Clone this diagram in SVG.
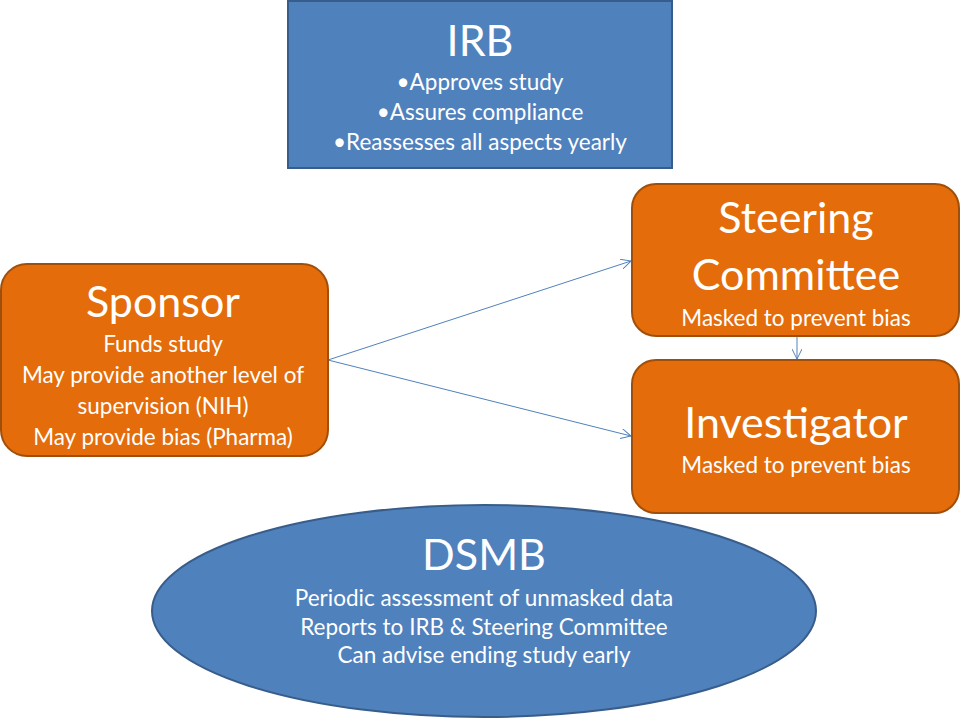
<svg xmlns="http://www.w3.org/2000/svg" width="960" height="720" viewBox="0 0 960 720">
<defs>
<style>
.blue{fill:#4F81BD;stroke:#385D8A;stroke-width:2}
.orange{fill:#E46C0A;stroke:#A04F0A;stroke-width:2}
text{font-family:Lato,"Open Sans",sans-serif;fill:#fff;text-anchor:middle}
.t{font-size:43px}
.s{font-size:22.5px}
.conn{stroke:#4F81BD;stroke-width:1;fill:none;marker-end:url(#arr)}
</style>
<marker id="arr" viewBox="0 0 10 10" refX="10" refY="5" markerWidth="10" markerHeight="10" markerUnits="userSpaceOnUse" orient="auto">
<path d="M0,0 L10,5 L0,10" fill="none" stroke="#4F81BD" stroke-width="1"/>
</marker>
</defs>
<rect width="960" height="720" fill="#fff"/>
<g id="connectors">
<line class="conn" x1="328" y1="360" x2="631" y2="261"/>
<line class="conn" x1="328" y1="360" x2="631" y2="436"/>
<line class="conn" x1="797" y1="336" x2="797" y2="359"/>
</g>
<g id="irb">
<rect class="blue" x="288" y="1" width="384" height="167"/>
<text class="t" x="480" y="56" font-size="40">IRB</text>
<text class="s" x="480" y="90">•Approves study</text>
<text class="s" x="480" y="120">•Assures compliance</text>
<text class="s" x="480" y="150">•Reassesses all aspects yearly</text>
</g>
<g id="sponsor">
<rect class="orange" x="1" y="264" width="327" height="192" rx="26"/>
<text class="t" x="163" y="317">Sponsor</text>
<text class="s" x="163" y="352">Funds study</text>
<text class="s" x="163" y="383">May provide another level of</text>
<text class="s" x="163" y="414">supervision (NIH)</text>
<text class="s" x="163" y="445">May provide bias (Pharma)</text>
</g>
<g id="steering">
<rect class="orange" x="632" y="184" width="327" height="152" rx="24"/>
<text class="t" x="796" y="233">Steering</text>
<text class="t" x="796" y="290">Committee</text>
<text class="s" x="796" y="326">Masked to prevent bias</text>
</g>
<g id="investigator">
<rect class="orange" x="632" y="360" width="327" height="153" rx="24"/>
<text class="t" x="796" y="438">Investigator</text>
<text class="s" x="796" y="473">Masked to prevent bias</text>
</g>
<g id="dsmb">
<ellipse class="blue" cx="484" cy="611" rx="332" ry="106"/>
<text class="t" x="484" y="570">DSMB</text>
<text class="s" x="484" y="606">Periodic assessment of unmasked data</text>
<text class="s" x="484" y="635">Reports to IRB &amp; Steering Committee</text>
<text class="s" x="484" y="663">Can advise ending study early</text>
</g>
</svg>
